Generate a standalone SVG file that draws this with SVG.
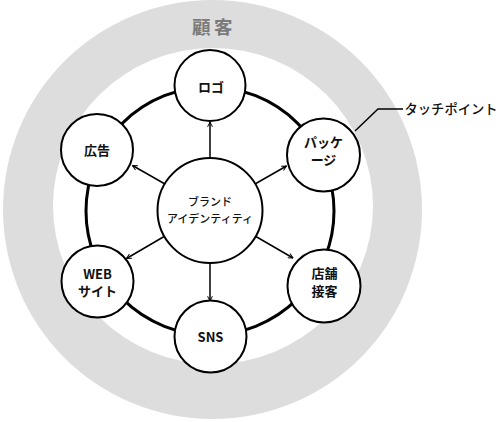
<svg xmlns="http://www.w3.org/2000/svg" width="501" height="422" viewBox="0 0 501 422">
<style>
.node circle{fill:#fff;stroke:#000;stroke-width:2}
.lbl{font-family:"Noto Sans CJK JP","Noto Sans",sans-serif;font-size:13px;font-weight:bold;text-anchor:middle;fill:#111}
.ctr{font-family:"Noto Sans CJK JP","Noto Sans",sans-serif;font-size:11px;font-weight:500;text-anchor:middle;fill:#111}
.arr{stroke:#000;stroke-width:1.5;fill:none;marker-end:url(#ah)}
</style>
<defs>
<marker id="ah" viewBox="0 0 10 10" refX="9" refY="5" markerWidth="6" markerHeight="6" markerUnits="userSpaceOnUse" orient="auto"><path d="M1,1 L9,5 L1,9" fill="none" stroke="#000" stroke-width="1.6"/></marker>
</defs>
<rect width="501" height="422" fill="#fff"/>
<g id="customer-ring">
<circle cx="212.5" cy="209.5" r="209.5" fill="#dddddd"/>
<ellipse cx="213" cy="206" rx="160" ry="158" fill="#fff"/>
<text x="214" y="34" font-family="'Noto Sans CJK JP','Noto Sans',sans-serif" font-size="18.5" font-weight="bold" fill="#7a7a7a" text-anchor="middle" letter-spacing="3.5">顧客</text>
</g>
<g id="connectors">
<circle cx="210" cy="211" r="124" fill="none" stroke="#000" stroke-width="3"/>
<line class="arr" x1="210" y1="157" x2="210" y2="122"/>
<line class="arr" x1="255.9" y1="183.5" x2="286.5" y2="166"/>
<line class="arr" x1="255.9" y1="236.5" x2="293" y2="258"/>
<line class="arr" x1="210" y1="263" x2="210" y2="301"/>
<line class="arr" x1="164.1" y1="236.5" x2="126.5" y2="258.5"/>
<line class="arr" x1="164.1" y1="183.5" x2="132.5" y2="165.5"/>
<polyline points="355,131 378,109 403,109" fill="none" stroke="#000" stroke-width="1.5"/>
</g>
<g id="brand" class="node">
<circle cx="210" cy="210.5" r="52.5"/>
<text class="ctr" x="210" y="206">ブランド</text>
<text class="ctr" x="210" y="222.5">アイデンティティ</text>
</g>
<g id="logo" class="node">
<circle cx="210" cy="85.5" r="35.5"/>
<text class="lbl" x="211" y="91.5">ロゴ</text>
</g>
<g id="package" class="node">
<circle cx="323.5" cy="155" r="36.5"/>
<text class="lbl" x="323.5" y="146.5">パッケ</text>
<text class="lbl" x="323.5" y="164.5">ージ</text>
</g>
<g id="store" class="node">
<circle cx="324" cy="286" r="36.5"/>
<text class="lbl" x="324.5" y="277.5">店舗</text>
<text class="lbl" x="324.5" y="296">接客</text>
</g>
<g id="sns" class="node">
<circle cx="210.5" cy="336.5" r="36"/>
<text class="lbl" x="210.5" y="341.5">SNS</text>
</g>
<g id="web" class="node">
<circle cx="97.5" cy="281.5" r="36"/>
<text class="lbl" x="97.5" y="278.5">WEB</text>
<text class="lbl" x="97.5" y="296">サイト</text>
</g>
<g id="ad" class="node">
<circle cx="97" cy="150" r="36"/>
<text class="lbl" x="97" y="155">広告</text>
</g>
<g id="touchpoint-label">
<text x="404.5" y="114" font-family="'Noto Sans CJK JP','Noto Sans',sans-serif" font-size="13.3" font-weight="500" fill="#111">タッチポイント</text>
</g>
</svg>
